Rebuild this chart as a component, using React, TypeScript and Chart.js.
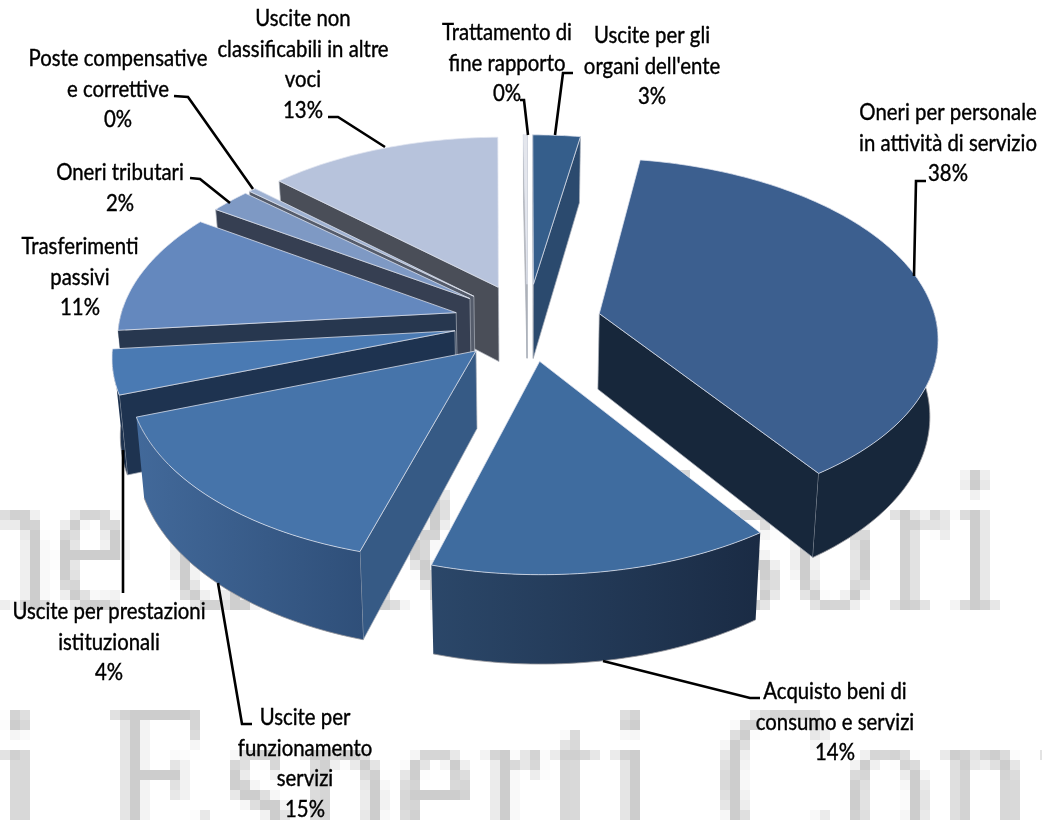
import React, { useEffect, useRef } from "react";
import { Chart, registerables } from "chart.js";

Chart.register(...registerables);

const categories = [
  "Uscite per gli organi dell'ente",
  "Oneri per personale in attività di servizio",
  "Acquisto beni di consumo e servizi",
  "Uscite per funzionamento servizi",
  "Uscite per prestazioni istituzionali",
  "Trasferimenti passivi",
  "Oneri tributari",
  "Poste compensative e correttive",
  "Uscite non classificabili in altre voci",
  "Trattamento di fine rapporto",
];
const shareValues = [2.6, 37.8, 14.1, 14.9, 4, 11, 2.2, 0.4, 12.8, 0.2];
const labelLines = [
  ["Uscite per gli", "organi dell'ente"],
  ["Oneri per personale", "in attività di servizio"],
  ["Acquisto beni di", "consumo e servizi"],
  ["Uscite per", "funzionamento", "servizi"],
  ["Uscite per prestazioni", "istituzionali"],
  ["Trasferimenti", "passivi"],
  ["Oneri tributari"],
  ["Poste compensative", "e correttive"],
  ["Uscite non", "classificabili in altre", "voci"],
  ["Trattamento di", "fine rapporto"],
];
const topColors = ["#355E8B", "#3C5F8F", "#3F6C9F", "#4674AA", "#4A7AB3", "#6488BE", "#7E99C4", "#9FB2D2", "#B7C3DC", "#E4E6EC"];
const wallLeft = ["#2B4A6E", "#17273B", "#2B4769", "#42699A", "#1E3350", "#27374F", "#363F52", "#555C6B", "#4A4E58", "#B8B8BC"];
const wallRight = ["#2B4A6E", "#17273B", "#1A2B44", "#2F4F79", "#1E3350", "#27374F", "#363F52", "#555C6B", "#4A4E58", "#B8B8BC"];
const cutColors = ["#2B4A6E", "#17273B", "#1A2B44", "#365A85", "#1E3350", "#27374F", "#363F52", "#555C6B", "#4A4E58", "#B8B8BC"];

// Label anchor (centre x, first-line y) and leader polyline per category.
const labelCentres = [
  [652, 36], [948, 113], [835, 692], [305, 718], [109, 612],
  [80, 247], [120, 173], [118, 59], [303, 19], [507, 33],
];
const leaders = [
  [[573, 73], [563, 73], [555, 135]],
  [[926, 181], [916, 181], [914, 276]],
  [[760, 698], [750, 698], [603, 661]],
  [[252, 724], [242, 724], [218, 583]],
  [[123, 593], [123, 450]],
  [],
  [[190, 178], [200, 179], [230, 203]],
  [[174, 96], [188, 97], [253, 189]],
  [[328, 117], [338, 117], [385, 147]],
  [[520, 100], [524, 100], [528, 135]],
];

const watermarkWords = ["Associazione dei", "Revisori", "i Esperti Contabili"];

const W = 1042;
const H = 820;
const PIE_RADIUS = 337;
const EXPLODE = 74;
const TILT = 0.524;
const PERSPECTIVE = 0.000365;
const DEPTH = 76;
const BASE_SHRINK = 0.02;
const LABEL_FONT = '23px Lato, "Open Sans", sans-serif';
const LABEL_SQUEEZE = 0.885;

const watermarkPlugin = {
  id: "watermark",
  beforeDraw(chart: any) {
    const ctx = chart.ctx;
    const cell = 10;
    const off = document.createElement("canvas");
    off.width = Math.ceil(W / cell);
    off.height = Math.ceil(H / cell) + 1;
    const o = off.getContext("2d")! as any;
    o.fillStyle = "#CDCDCD";
    o.font = '21.4px "Liberation Serif", serif';
    o.save();
    o.textAlign = "right";
    o.translate(38, 60.8);
    o.scale(0.8, 1);
    o.fillText(watermarkWords[0], 0, 0);
    o.restore();
    o.save();
    o.textAlign = "right";
    o.letterSpacing = "1px";
    o.translate(101, 60.8);
    o.scale(0.82, 1);
    o.fillText(watermarkWords[1], 0, 0);
    o.restore();
    o.save();
    o.textAlign = "left";
    o.letterSpacing = "0.85px";
    o.translate(-0.4, 84.8);
    o.scale(0.84, 1);
    o.fillText(watermarkWords[2], 0, 0);
    o.restore();
    ctx.save();
    ctx.fillStyle = "#fff";
    ctx.fillRect(0, 0, W, H);
    ctx.imageSmoothingEnabled = false;
    ctx.drawImage(off, 0, 0, off.width * cell, off.height * cell);
    ctx.restore();
  },
};

const pie3dPlugin = {
  id: "pie3d",
  beforeDatasetsDraw(chart: any) {
    const ctx = chart.ctx;
    const arcs = chart.getDatasetMeta(0).data as any[];
    const cx = arcs[0].x + 6.5;
    const cy = arcs[0].y - 88;
    const project = (X: number, Y: number, z: number) => {
      const s = 1 / (1 - PERSPECTIVE * Y);
      return { x: cx + X * s * (1 - BASE_SHRINK * z), y: cy + (TILT * Y + z * DEPTH) * s };
    };
    const polygon = (pts: { x: number; y: number }[]) => {
      ctx.beginPath();
      pts.forEach((p, i) => (i ? ctx.lineTo(p.x, p.y) : ctx.moveTo(p.x, p.y)));
      ctx.closePath();
    };
    const slices = arcs.map((arc, i) => {
      const { startAngle, endAngle, outerRadius } = arc.getProps(["startAngle", "endAngle", "outerRadius"], true);
      const mid = (startAngle + endAngle) / 2;
      const ox = Math.cos(mid) * arc.options.offset;
      const oy = Math.sin(mid) * arc.options.offset;
      const at = (a: number, r: number, z: number) => project(ox + Math.cos(a) * r, oy + Math.sin(a) * r, z);
      return { i, arc, startAngle, endAngle, outerRadius, mid, oy, at };
    });
    const order = [...slices].sort((a, b) => a.oy - b.oy);

    ctx.save();
    ctx.lineJoin = "round";
    for (const s of order) {
      const A = s.at(0, 0, 0);
      const M = s.at(s.mid, s.outerRadius * 0.6, 0);
      const cuts = [s.startAngle, s.endAngle];
      for (const a of cuts) {
        const C = s.at(a, s.outerRadius, 0);
        const t = (M.x - A.x) / (C.x - A.x || 1e-6);
        const yLine = A.y + t * (C.y - A.y);
        if (M.y >= yLine) continue;
        polygon([A, C, s.at(a, s.outerRadius, 1), s.at(0, 0, 1)]);
        ctx.fillStyle = cutColors[s.i];
        ctx.fill();
        ctx.strokeStyle = "rgba(170,175,185,0.7)";
        ctx.lineWidth = 1;
        ctx.stroke();
      }
      const from = Math.max(s.startAngle, -0.03);
      const to = Math.min(s.endAngle, Math.PI + 0.03);
      if (to > from) {
        const top: any[] = [];
        const bottom: any[] = [];
        const n = Math.max(2, Math.ceil((to - from) / 0.02));
        for (let k = 0; k <= n; k++) {
          const a = from + ((to - from) * k) / n;
          top.push(s.at(a, s.outerRadius, 0));
          bottom.unshift(s.at(a, s.outerRadius, 1));
        }
        const xs = [...top, ...bottom].map((p) => p.x);
        const g = ctx.createLinearGradient(Math.min(...xs), 0, Math.max(...xs), 0);
        g.addColorStop(0, wallLeft[s.i]);
        g.addColorStop(1, wallRight[s.i]);
        polygon([...top, ...bottom]);
        ctx.fillStyle = g;
        ctx.fill();
        ctx.beginPath();
        bottom.forEach((p, k) => (k ? ctx.lineTo(p.x, p.y) : ctx.moveTo(p.x, p.y)));
        ctx.strokeStyle = "rgba(150,150,155,0.8)";
        ctx.lineWidth = 1;
        ctx.stroke();
      }
    }
    for (const s of order) {
      const pts: any[] = [s.at(0, 0, 0)];
      const n = Math.max(2, Math.ceil((s.endAngle - s.startAngle) / 0.02));
      for (let k = 0; k <= n; k++) {
        pts.push(s.at(s.startAngle + ((s.endAngle - s.startAngle) * k) / n, s.outerRadius, 0));
      }
      polygon(pts);
      ctx.fillStyle = s.arc.options.backgroundColor;
      ctx.fill();
      ctx.strokeStyle = "rgba(225,230,240,0.75)";
      ctx.lineWidth = 1;
      ctx.stroke();
    }
    ctx.restore();
    return false;
  },
  afterDraw(chart: any) {
    const ctx = chart.ctx;
    ctx.save();
    ctx.strokeStyle = "#000";
    ctx.lineWidth = 2.6;
    for (const line of leaders) {
      if (!line.length) continue;
      ctx.beginPath();
      line.forEach(([x, y], k) => (k ? ctx.lineTo(x, y) : ctx.moveTo(x, y)));
      ctx.stroke();
    }
    ctx.fillStyle = "#000";
    ctx.strokeStyle = "#000";
    ctx.lineWidth = 0.4;
    ctx.font = LABEL_FONT;
    ctx.textAlign = "center";
    ctx.textBaseline = "middle";
    const values = chart.data.datasets[0].data as number[];
    categories.forEach((_, i) => {
      const [x, y] = labelCentres[i];
      const lines = [...labelLines[i], `${Math.round(values[i])}%`];
      lines.forEach((text, k) => {
        ctx.save();
        ctx.translate(x, y + k * 30.5);
        ctx.scale(LABEL_SQUEEZE, 1);
        ctx.fillText(text, 0, 0);
        ctx.strokeText(text, 0, 0);
        ctx.restore();
      });
    });
    ctx.restore();
  },
};

export default function App() {
  const ref = useRef<HTMLCanvasElement>(null);
  useEffect(() => {
    const chart = new Chart(ref.current!, {
      type: "pie",
      data: {
        labels: categories,
        datasets: [{ data: shareValues, backgroundColor: topColors, offset: EXPLODE, borderWidth: 0 }],
      },
      options: {
        animation: false,
        responsive: false,
        radius: PIE_RADIUS,
        plugins: { legend: { display: false }, tooltip: { enabled: false } },
      } as any,
      plugins: [watermarkPlugin, pie3dPlugin],
    });
    return () => chart.destroy();
  }, []);
  return (
    <canvas
      ref={ref}
      width={W}
      height={H}
      style={{ position: "absolute", left: 0, top: 0, display: "block" }}
    />
  );
}
